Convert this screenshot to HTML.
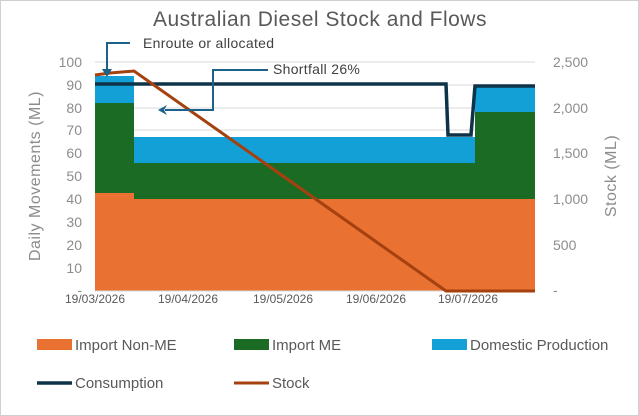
<!DOCTYPE html>
<html><head><style>body{margin:0;background:#fff}svg{display:block;font-family:"Liberation Sans",sans-serif}</style></head><body>
<svg width="639" height="416" viewBox="0 0 639 416">
<rect x="0.5" y="0.5" width="638" height="415" fill="#fff" stroke="#d0d0d0"/>
<text x="320" y="26" font-size="21" fill="#595959" text-anchor="middle" letter-spacing="0.5">Australian Diesel Stock and Flows</text>
<g stroke="#d9d9d9" stroke-width="1">
<line x1="95" x2="535" y1="62" y2="62"/><line x1="95" x2="535" y1="85" y2="85"/><line x1="95" x2="535" y1="108" y2="108"/><line x1="95" x2="535" y1="130" y2="130"/><line x1="95" x2="535" y1="153" y2="153"/><line x1="95" x2="535" y1="176" y2="176"/><line x1="95" x2="535" y1="199" y2="199"/><line x1="95" x2="535" y1="222" y2="222"/><line x1="95" x2="535" y1="245" y2="245"/><line x1="95" x2="535" y1="268" y2="268"/>
</g>
<rect x="95" y="76" width="39" height="27" fill="#13a0d6"/>
<rect x="95" y="103" width="39" height="90" fill="#1c6b25"/>
<rect x="95" y="193" width="39" height="98" fill="#e97132"/>
<rect x="134" y="137" width="341" height="26" fill="#13a0d6"/>
<rect x="134" y="163" width="341" height="36" fill="#1c6b25"/>
<rect x="134" y="199" width="401" height="92" fill="#e97132"/>
<rect x="475" y="87" width="60" height="25" fill="#13a0d6"/>
<rect x="475" y="112" width="60" height="87" fill="#1c6b25"/>
<line x1="95" x2="535" y1="291" y2="291" stroke="#d9d9d9"/>
<polyline points="95,84 446,84 448,135 471,135 475,86 535,86" fill="none" stroke="#0e3349" stroke-width="3.5"/>
<polyline points="95,75 110,73 134,71 446,291 535,291" fill="none" stroke="#a5400f" stroke-width="3"/>
<g stroke="#1b6189" stroke-width="2" fill="none">
<polyline points="130,43 107,43 107,70"/>
<polyline points="268,70 213,70 213,110 165,110"/>
</g>
<polygon points="102,69 112,69 107,77" fill="#1b6189"/>
<polygon points="158,110 167,105 164,110 167,115" fill="#1b6189"/>
<text x="143" y="48" font-size="14" fill="#404040" letter-spacing="0.3">Enroute or allocated</text>
<text x="273" y="74" font-size="14" fill="#404040" letter-spacing="0.3">Shortfall  26%</text>
<g font-size="14" fill="#8c8c8c" text-anchor="end">
<text x="82" y="67">100</text><text x="82" y="90">90</text><text x="82" y="113">80</text><text x="82" y="135">70</text><text x="82" y="158">60</text><text x="82" y="181">50</text><text x="82" y="204">40</text><text x="82" y="227">30</text><text x="82" y="250">20</text><text x="82" y="273">10</text><text x="82" y="295">-</text>
</g>
<text transform="translate(40,176) rotate(-90)" font-size="16" fill="#8c8c8c" text-anchor="middle" letter-spacing="0.5">Daily Movements (ML)</text>
<g font-size="14" fill="#8c8c8c">
<text x="553" y="67">2,500</text><text x="553" y="113">2,000</text><text x="553" y="158">1,500</text><text x="553" y="204">1,000</text><text x="553" y="250">500</text><text x="553" y="295">-</text>
</g>
<text transform="translate(616,176) rotate(-90)" font-size="16" fill="#8c8c8c" text-anchor="middle" letter-spacing="0.5">Stock (ML)</text>
<g font-size="12" fill="#595959" text-anchor="middle">
<text x="95" y="303">19/03/2026</text><text x="188" y="303">19/04/2026</text><text x="283" y="303">19/05/2026</text><text x="376" y="303">19/06/2026</text><text x="468" y="303">19/07/2026</text>
</g>
<rect x="37" y="339" width="35" height="11" fill="#e97132"/>
<text x="75" y="350" font-size="15" fill="#595959">Import Non-ME</text>
<rect x="234" y="339" width="35" height="11" fill="#1c6b25"/>
<text x="272" y="350" font-size="15" fill="#595959">Import ME</text>
<rect x="432" y="339" width="35" height="11" fill="#13a0d6"/>
<text x="470" y="350" font-size="15" fill="#595959">Domestic Production</text>
<line x1="37" x2="72" y1="383" y2="383" stroke="#0e3349" stroke-width="3.5"/>
<text x="75" y="388" font-size="15" fill="#595959">Consumption</text>
<line x1="234" x2="269" y1="383" y2="383" stroke="#a5400f" stroke-width="3"/>
<text x="272" y="388" font-size="15" fill="#595959">Stock</text>
</svg>
</body></html>
